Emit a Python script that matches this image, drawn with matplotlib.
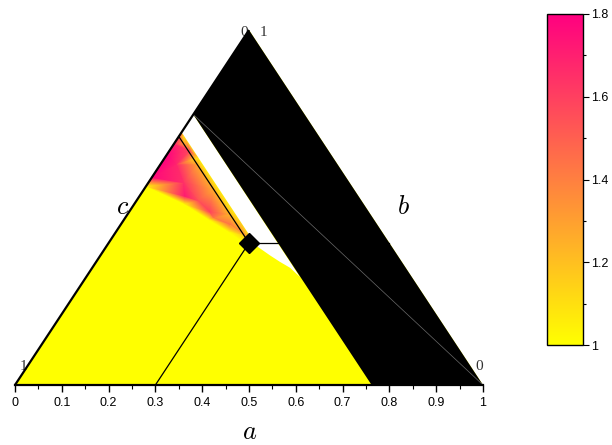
import numpy as np
import matplotlib
matplotlib.use('Agg')
import matplotlib.pyplot as plt
import matplotlib.tri as mtri
from matplotlib.colors import LinearSegmentedColormap, Normalize
from matplotlib.cm import ScalarMappable

plt.rcParams['mathtext.fontset'] = 'cm'

# ---------------- data ----------------
bottom_ticks = [0, 0.1, 0.2, 0.3, 0.4, 0.5, 0.6, 0.7, 0.8, 0.9, 1]
bottom_labels = ['0', '0.1', '0.2', '0.3', '0.4', '0.5', '0.6', '0.7', '0.8', '0.9', '1']
cbar_ticks = [1, 1.2, 1.4, 1.6, 1.8]
cbar_labels = ['1', '1.2', '1.4', '1.6', '1.8']
vmin, vmax = 1.0, 1.8

# ternary coordinates: a = bottom-axis fraction, t = top-vertex fraction
point_a, point_t = 0.3, 0.4          # marked composition

# black (out-of-range) region
black_a = [0.762, 1.0, 0.0, 0.0]
black_t = [0.0, 0.0, 1.0, 0.762]

# white (undefined) region
white_a = [0.0, 0.0, 0.312, 0.3245, 0.3625, 0.3925, 0.423, 0.457]
white_t = [0.762, 0.712, 0.40, 0.389, 0.365, 0.347, 0.330, 0.304]

# sampled values of the colour field (wedge near the left edge)
grad_a = [0.0, 0.0, 0.0, 0.0, 0.0, 0.0,            # left edge
          0.097, 0.173, 0.234, 0.282,             # lower rim (inside)
          0.0, 0.107, 0.183, 0.244, 0.30,         # lower rim (yellow side)
          0.02, 0.08, 0.15, 0.22, 0.28,           # along guide line
          0.012, 0.073, 0.154, 0.236, 0.31,       # outer fringe
          0.035, 0.075, 0.13, 0.19, 0.045]        # interior
grad_t = [0.585, 0.62, 0.65, 0.68, 0.70, 0.712,
          0.532, 0.487, 0.451, 0.420,
          0.56, 0.510, 0.465, 0.430, 0.395,
          0.68, 0.62, 0.55, 0.48, 0.42,
          0.70, 0.64, 0.56, 0.48, 0.405,
          0.62, 0.57, 0.52, 0.47, 0.66]
grad_v = [1.78, 1.8, 1.8, 1.7, 1.6, 1.5,
          1.72, 1.6, 1.45, 1.32,
          1.0, 1.0, 1.0, 1.0, 1.0,
          1.3, 1.28, 1.25, 1.22, 1.18,
          1.02, 1.02, 1.02, 1.02, 1.02,
          1.68, 1.65, 1.55, 1.42, 1.55]

cmap = LinearSegmentedColormap.from_list('ym', ['#ffff00', '#ff8040', '#ff0080'])


def to_xy(a, t):
    a = np.asarray(a, float)
    t = np.asarray(t, float)
    return a + 0.5 * t, t


fig = plt.figure(figsize=(6.12, 4.45), dpi=100)
ax = fig.add_axes([15 / 612, 60 / 445, 468 / 612, 355 / 445])
ax.set_xlim(0, 1)
ax.set_ylim(0, 1)

# base yellow triangle
ax.fill([0, 1, 0.5], [0, 0, 1], color=cmap(0.0), lw=0, zorder=1)

# colour field
gx, gy = to_xy(grad_a, grad_t)
tri = mtri.Triangulation(gx, gy)
ax.tripcolor(tri, grad_v, shading='gouraud', cmap=cmap, vmin=vmin, vmax=vmax, zorder=2)

# white region
wx, wy = to_xy(white_a, white_t)
ax.fill(wx, wy, color='white', lw=0, zorder=3)

# guide lines from the marked point
px, py = to_xy(point_a, point_t)
for (la, lt) in [(0.0, point_a + point_t), (point_a, 0.0), (1 - point_t, point_t)]:
    lx, ly = to_xy(la, lt)
    ax.plot([px, lx], [py, ly], color='black', lw=0.9, zorder=3.5)

# corner labels
serif = ['Liberation Serif', 'DejaVu Serif']
lab_kw = dict(fontsize=11, family=serif, color='#333333', ha='center', va='center',
              zorder=3.6, clip_on=False)
ax.text(0.018, (385 - 367) / 355, '1', **lab_kw)
ax.text((479 - 15) / 468, (385 - 367) / 355, '0', **lab_kw)
ax.text((244 - 15) / 468, (385 - 32) / 355, '0', **lab_kw)
ax.text((263 - 15) / 468, (385 - 32) / 355, '1', **lab_kw)

# black region
bx, by = to_xy(black_a, black_t)
ax.fill(bx, by, color='black', lw=0, zorder=4, clip_on=False)
gx2, gy2 = to_xy([black_a[3], black_a[1]], [black_t[3], black_t[1]])
ax.plot(gx2, gy2, color='#6a6a6a', lw=0.5, zorder=5)

# left edge
ax.plot([0, 0.5], [0, 1], color='black', lw=1.6, zorder=6, clip_on=False, solid_capstyle='butt')

# marker
ax.plot([px], [py], marker='D', ms=10, color='black', zorder=7, clip_on=False)

# axes styling
for s in ['top', 'right', 'left']:
    ax.spines[s].set_visible(False)
ax.spines['bottom'].set_linewidth(1.6)
ax.spines['bottom'].set_zorder(8)
ax.set_yticks([])
ax.set_xticks(bottom_ticks)
ax.set_xticklabels(bottom_labels, family=['Liberation Sans', 'DejaVu Sans'], fontsize=9)
ax.set_xticks(np.arange(0.05, 1.0, 0.1), minor=True)
ax.tick_params(axis='x', which='major', direction='out', length=5, width=1.0, pad=4)
ax.tick_params(axis='x', which='minor', direction='out', length=3, width=0.8)

# axis titles
fig.text(250 / 612, 1 - 432 / 445, r'$a$', fontsize=19, ha='center', va='center')
fig.text(403 / 612, 1 - 207 / 445, r'$b$', fontsize=19, ha='center', va='center')
fig.text(123 / 612, 1 - 207 / 445, r'$c$', fontsize=19, ha='center', va='center')

# colorbar
cax = fig.add_axes([547 / 612, 100 / 445, 36 / 612, 331 / 445])
sm = ScalarMappable(norm=Normalize(vmin, vmax), cmap=cmap)
cb = fig.colorbar(sm, cax=cax, ticks=cbar_ticks)
cb.ax.set_yticklabels(cbar_labels, family=['Liberation Sans', 'DejaVu Sans'], fontsize=9)
cb.ax.set_yticks([1.1, 1.3, 1.5, 1.7], minor=True)
cb.outline.set_linewidth(1.0)
cb.ax.tick_params(which='major', length=4, width=0.8, pad=1.5)
cb.ax.tick_params(which='minor', length=2.5, width=0.8)

fig.savefig('out.png', dpi=100)
